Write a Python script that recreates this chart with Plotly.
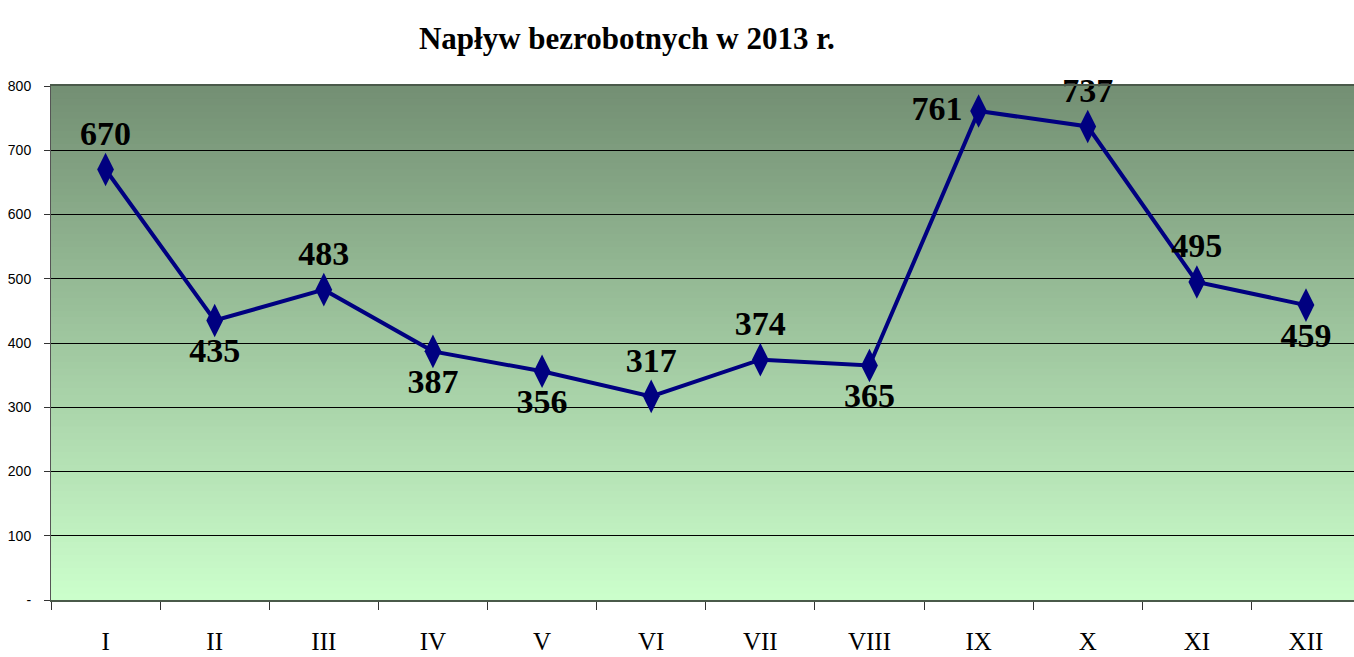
import plotly.graph_objects as go

months = ["I", "II", "III", "IV", "V", "VI", "VII", "VIII", "IX", "X", "XI", "XII"]
values = [670, 435, 483, 387, 356, 317, 374, 365, 761, 737, 495, 459]
label_pos = ["top center", "bottom center", "top center", "bottom center", "bottom center",
             "top center", "top center", "bottom center", "middle left", "top center",
             "top center", "bottom center"]
y_ticks = [0, 100, 200, 300, 400, 500, 600, 700, 800]
y_tick_text = ["-", "100", "200", "300", "400", "500", "600", "700", "800"]
title_text = "Napływ bezrobotnych w 2013 r."

fig = go.Figure()
fig.add_trace(go.Scatter(
    x=months, y=values,
    mode="lines+markers+text",
    text=[str(v) for v in values],
    textposition=label_pos,
    textfont=dict(family="Liberation Serif", size=34, color="black", weight="bold"),
    line=dict(color="#000080", width=4),
    marker=dict(symbol="diamond-tall", size=24, color="#000080"),
    cliponaxis=False,
    showlegend=False,
))

# vertical gradient background
n = 80
top = (115, 143, 115)
bot = (204, 255, 204)
shapes = []
for i in range(n):
    t = (i + 0.5) / n
    c = tuple(round(bot[k] + (top[k] - bot[k]) * t) for k in range(3))
    shapes.append(dict(type="rect", xref="paper", yref="paper",
                       x0=0, x1=1, y0=i / n, y1=min(1, (i + 1) / n + 0.002),
                       fillcolor="rgb(%d,%d,%d)" % c, line=dict(width=0), layer="below"))

fig.update_layout(
    width=1354, height=657,
    margin=dict(l=51, r=0, t=86, b=57),
    paper_bgcolor="white", plot_bgcolor="white",
    shapes=shapes,
    title=dict(text=title_text, x=0.463, xanchor="center", y=0.942, yanchor="middle",
               font=dict(family="Liberation Serif", size=31, color="black", weight="bold")),
    xaxis=dict(
        type="category", categoryorder="array", categoryarray=months,
        range=[-0.5, 11.44], tickson="boundaries", ticks="outside", ticklen=8,
        tickcolor="#333333", showgrid=False, zeroline=False,
        showline=True, linecolor="#4a5a4a", linewidth=2, mirror=True,
        tickfont=dict(family="Liberation Serif", size=25, color="black"),
        ticklabelstandoff=18, automargin=False,
    ),
    yaxis=dict(
        tickmode="array", tickvals=y_ticks, ticktext=y_tick_text,
        range=[0, 800], ticks="outside", ticklen=6, tickcolor="#333333",
        showgrid=True, gridcolor="black", gridwidth=1, zeroline=False,
        showline=True, linecolor="#555555", linewidth=1,
        tickfont=dict(family="Liberation Sans Narrow, Liberation Sans", size=14, color="black"),
        ticklabelstandoff=10, automargin=False,
    ),
)

fig.write_html("out.html", config={"displayModeBar": False},
               post_script="document.body.style.margin='0';document.body.style.overflow='hidden';")
